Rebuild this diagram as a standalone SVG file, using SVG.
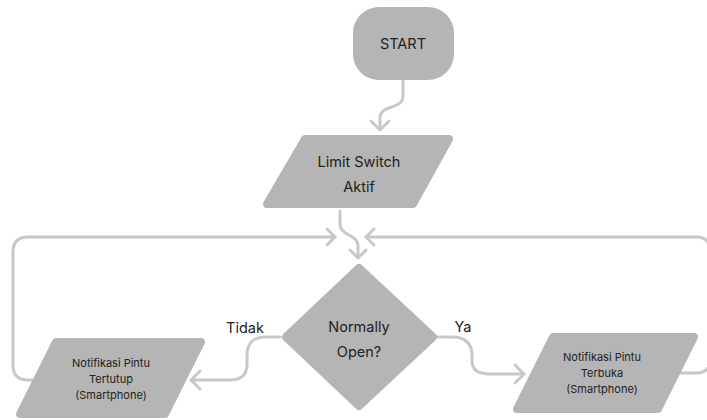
<svg xmlns="http://www.w3.org/2000/svg" width="707" height="420" viewBox="0 0 707 420">
<style>
.node{fill:#b5b5b5;stroke:#b5b5b5;stroke-width:8;stroke-linejoin:round}
.lbl{font-family:Inter,"Liberation Sans",sans-serif;fill:#222;text-anchor:middle}
.big{font-size:14.5px}
.small{font-size:11px}
.edge{fill:none;stroke:#c8c8c8;stroke-width:3;stroke-linecap:round;stroke-linejoin:round}
</style>
<rect width="707" height="420" fill="#ffffff"/>
<g id="connectors">
<path class="edge" d="M403,81 L403,96 C403,110 380,104 380,118 L380,129"/>
<path class="edge" d="M371,121 L380,130 L389,121"/>
<path class="edge" d="M340,211 L340,224 C340,236 358,234 358,246 L358,257"/>
<path class="edge" d="M350,250 L358,258 L366,250"/>
<path class="edge" d="M32,380 L28,380 Q13,380 13,365 L13,252 Q13,237 28,237 L335,237"/>
<path class="edge" d="M327,229 L335,237 L327,245"/>
<path class="edge" d="M680,373 L696,373 Q710,373 710,359 L710,251 Q710,237 696,237 L366,237"/>
<path class="edge" d="M374,229 L366,237 L374,245"/>
<path class="edge" d="M280,337 L266,337 C252,337 247,344 247,356 L247,364 C247,375 241,380 230,380 L191,380"/>
<path class="edge" d="M200,371 L191,380 L200,389"/>
<path class="edge" d="M438,337 L452,337 C466,337 472,344 472,356 L472,361 C472,370 478,374 490,374 L524,374"/>
<path class="edge" d="M515,365 L524,374 L515,383"/>
</g>
<g id="start">
<rect x="353" y="7" width="101" height="73" rx="26" fill="#b5b5b5"/>
<text class="lbl big" x="403" y="49">START</text>
</g>
<g id="limit">
<polygon class="node" points="305,139 449,139 413,204 267,204"/>
<text class="lbl big" x="359" y="167">Limit Switch</text>
<text class="lbl big" x="359" y="192">Aktif</text>
</g>
<g id="decision">
<polygon class="node" points="359,268 433,337 359,406 286,337"/>
<text class="lbl big" x="359" y="332">Normally</text>
<text class="lbl big" x="359" y="357">Open?</text>
</g>
<g id="tutup">
<polygon class="node" points="56,342 201,342 165,414 20,414"/>
<text class="lbl small" x="111" y="367">Notifikasi Pintu</text>
<text class="lbl small" x="111" y="383">Tertutup</text>
<text class="lbl small" x="111" y="399">(Smartphone)</text>
</g>
<g id="buka">
<polygon class="node" points="553,337 694,337 658,409 517,409"/>
<text class="lbl small" x="602" y="361">Notifikasi Pintu</text>
<text class="lbl small" x="602" y="377">Terbuka</text>
<text class="lbl small" x="602" y="393">(Smartphone)</text>
</g>
<g id="labels">
<text class="lbl big" x="245" y="333">Tidak</text>
<text class="lbl big" x="463" y="332">Ya</text>
</g>
</svg>
